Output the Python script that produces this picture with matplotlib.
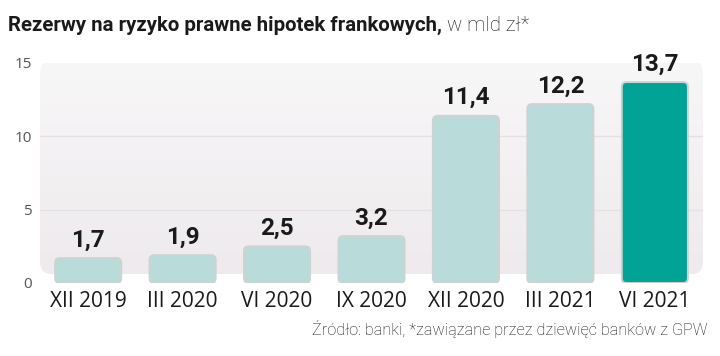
import matplotlib
matplotlib.use("Agg")
import matplotlib.pyplot as plt
import numpy as np
from matplotlib.patches import FancyBboxPatch
from matplotlib.colors import LinearSegmentedColormap

categories = ["XII 2019", "III 2020", "VI 2020", "IX 2020", "XII 2020", "III 2021", "VI 2021"]
values = [1.7, 1.9, 2.5, 3.2, 11.4, 12.2, 13.7]
value_labels = ["1,7", "1,9", "2,5", "3,2", "11,4", "12,2", "13,7"]
yticks = [0, 5, 10, 15]
title_bold = "Rezerwy na ryzyko prawne hipotek frankowych,"
title_light = " w mld zł*"
source = "Źródło: banki, *zawiązane przez dziewięć banków z GPW"

W, H = 720, 356
fig = plt.figure(figsize=(W / 100, H / 100), dpi=100)
fig.patch.set_facecolor("white")

left, right = 40 / W, 703 / W
bottom, top = (H - 283) / H, (H - 63) / H
ax = fig.add_axes([left, bottom, right - left, top - bottom])
ax.set_xlim(-0.51, 6.51)
ax.set_ylim(0, 15)
ax.set_facecolor("none")
for s in ax.spines.values():
    s.set_visible(False)

px_x = (703 - 40) / 7.02
px_y = (283 - 63) / 15.0
aspect = px_x / px_y

panel = FancyBboxPatch((-0.51, 0.6), 7.02, 14.55,
                       boxstyle="round,pad=0,rounding_size=0.13",
                       mutation_aspect=aspect, facecolor="none", edgecolor="none",
                       transform=ax.transData, zorder=0)
ax.add_patch(panel)
grad = np.linspace(0, 1, 256).reshape(-1, 1)
cmap = LinearSegmentedColormap.from_list("bg", ["#eeeaed", "#f8f7f8"])
im = ax.imshow(grad, extent=(-0.51, 6.51, 0.6, 15.15), origin="lower", cmap=cmap,
               aspect="auto", zorder=0)
im.set_clip_path(panel)

for g in [5, 10]:
    ax.axhline(g, color="#e6dfe3", lw=1.0, zorder=0.5)

x = np.arange(len(categories))
colors = ["#b9dcdb"] * (len(categories) - 1) + ["#00a396"]
bars = ax.bar(x, values, width=0.7, color=colors)
for b, c in zip(bars, colors):
    b.set_visible(False)
    fb = FancyBboxPatch((b.get_x(), b.get_y()), b.get_width(), b.get_height(),
                        boxstyle="round,pad=0,rounding_size=0.05",
                        mutation_aspect=aspect, facecolor=c,
                        edgecolor="#cdd3d3", linewidth=1.4, zorder=2)
    ax.add_patch(fb)

for xi, v, lab in zip(x, values, value_labels):
    ax.text(xi, v + 0.45, lab, ha="center", va="bottom", fontsize=17.5,
            fontweight="bold", family="Roboto", color="#1a1a1a", zorder=3, clip_on=False)

ax.set_xticks(x)
ax.set_xticklabels(categories, fontsize=15, family="Open Sans", color="#1a1a1a")
ax.set_yticks(yticks)
ax.set_yticklabels([str(t) for t in yticks], fontsize=11, family="Open Sans", color="#555555")
ax.tick_params(axis="both", length=0)
ax.tick_params(axis="x", pad=6)
ax.tick_params(axis="y", pad=6)

t1 = fig.text(8 / W, 1 - 31 / H, title_bold, fontsize=14.7, fontweight="bold",
              family="Roboto", color="#1a1a1a", va="baseline", ha="left")
fig.canvas.draw()
bb = t1.get_window_extent()
fig.text(bb.x1 / W, 1 - 31 / H, title_light, fontsize=14.7, fontweight="light",
         family="Roboto", color="#111111", va="baseline", ha="left")

fig.text(707 / W, 1 - 335 / H, source, fontsize=11.7, fontweight="light",
         family="Roboto", color="#111111", ha="right", va="baseline")

fig.savefig("out.png", dpi=100, facecolor="white")
